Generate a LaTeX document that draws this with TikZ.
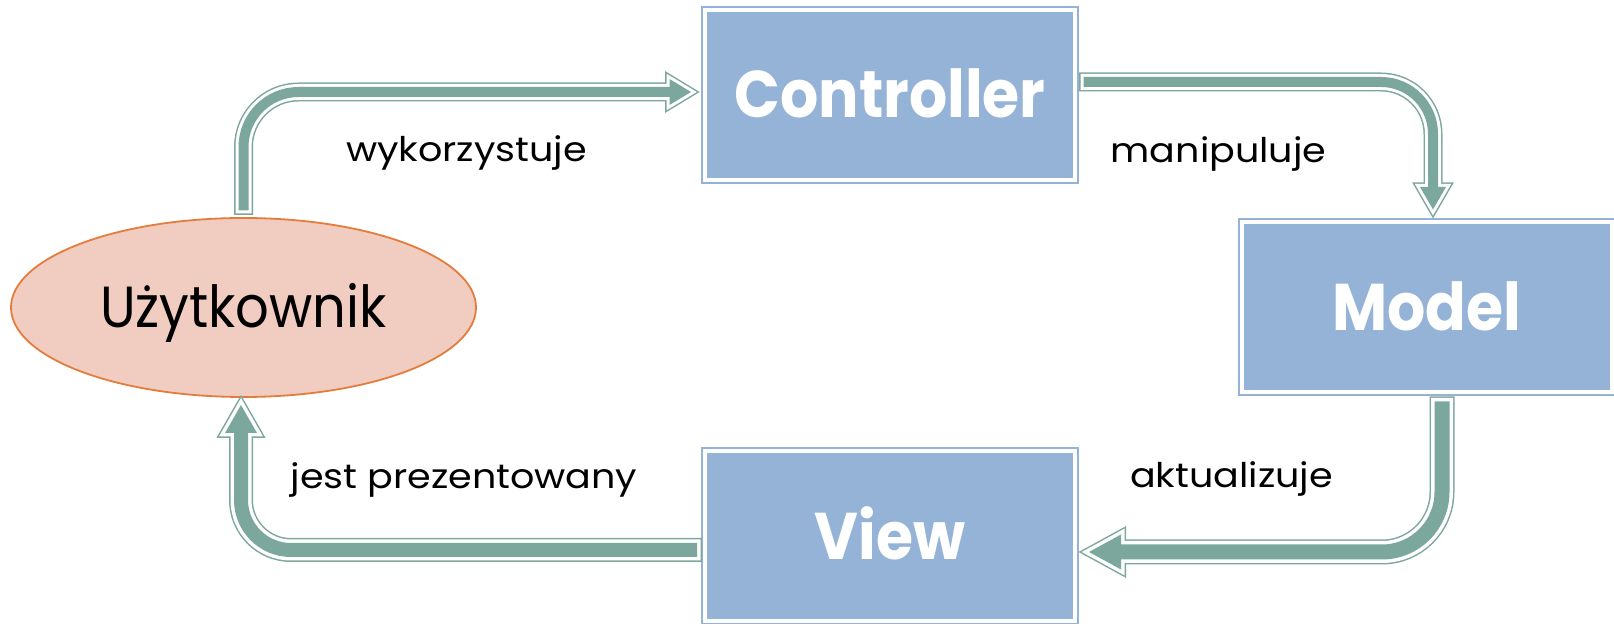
\documentclass[tikz,border=0pt]{standalone}
\usepackage{fontspec}
\setmainfont{Poppins}
\newfontfamily\boxfont[FakeStretch=0.91]{Poppins}
\newfontfamily\lblfont[FakeStretch=1.12]{Poppins}
\usetikzlibrary{calc,shapes.geometric}
\definecolor{arrteal}{RGB}{124,167,157}
\definecolor{boxblue}{RGB}{149,179,215}
\definecolor{boxline}{RGB}{149,179,215}
\definecolor{userfill}{RGB}{240,205,192}
\definecolor{userline}{RGB}{228,124,60}
\begin{document}
\begin{tikzpicture}[x=0.5pt,y=-0.5pt,
  box/.style={rectangle, draw=boxline, line width=1pt, fill=white,
    minimum width=188pt, minimum height=88pt, inner sep=0pt, outer sep=0pt,
    text=white, font=\boxfont\bfseries\fontsize{33}{33}\selectfont,
    text height=23pt, text depth=0pt,
    path picture={\fill[boxblue] ([shift={(2.5pt,2.5pt)}]path picture bounding box.south west) rectangle ([shift={(-2.5pt,-2.5pt)}]path picture bounding box.north east);}},
  userbox/.style={ellipse, draw=userline, line width=0.9pt, fill=userfill,
    minimum width=232.5pt, minimum height=89.5pt, inner sep=0pt, outer sep=0pt,
    font=\boxfont\fontsize{29}{29}\selectfont, text height=20.5pt, text depth=0pt},
  lbl/.style={anchor=base, inner sep=0pt, font=\lblfont\fontsize{17}{17}\selectfont},
  shaft/.style={line cap=rect, line join=miter},
  head/.style={line join=miter}
]
\useasboundingbox (0,0) rectangle (1614,624);

\node[box] (ctrl) at (890,95) {Controller};
\node[box] (model) at (1427,307.5) {Model};
\node[box] (view) at (890,536.5) {View};
\node[userbox] (user) at (243.5,307.5) {Użytkownik};

% arrow geometry
\coordinate (a1s) at ($(user.north)+(0,-12.5)$);
\coordinate (a1t) at ($(ctrl.west)+(-11,-3)$);
\coordinate (a1b) at ($(a1t)+(-21.5,0)$);
\coordinate (a2s) at ($(ctrl.east)+(10.5,-13)$);
\coordinate (a2t) at ($(model.north)+(6,-10)$);
\coordinate (a2b) at ($(a2t)+(0,-22.5)$);
\coordinate (a3s) at ($(model.south)+(15,13.5)$);
\coordinate (a3t) at ($(view.east)+(11,15.5)$);
\coordinate (a3b) at ($(a3t)+(32,0)$);
\coordinate (a4s) at ($(view.west)+(-12,13.5)$);
\coordinate (a4t) at ($(user.south)+(-2.5,8)$);
\coordinate (a4b) at ($(a4t)+(0,28)$);

% layer 1: outer outline
\draw[shaft, arrteal, line width=9.5pt] (a1s) [rounded corners=27.5pt] |- (a1b);
\draw[shaft, arrteal, line width=9.5pt] (a2s) [rounded corners=26pt] -| (a2b);
\draw[shaft, arrteal, line width=12.5pt] (a3s) [rounded corners=30pt] |- (a3b);
\draw[shaft, arrteal, line width=12pt] (a4s) [rounded corners=25pt] -| (a4b);
\filldraw[head, arrteal, line width=4.5pt] (a1t) -- ($(a1b)+(0,-13)$) -- ($(a1b)+(0,13)$) -- cycle;
\filldraw[head, arrteal, line width=4.5pt] (a2t) -- ($(a2b)+(-13,0)$) -- ($(a2b)+(13,0)$) -- cycle;
\filldraw[head, arrteal, line width=5pt] (a3t) -- ($(a3b)+(0,-17.5)$) -- ($(a3b)+(0,17.5)$) -- cycle;
\filldraw[head, arrteal, line width=5pt] (a4t) -- ($(a4b)+(-16,0)$) -- ($(a4b)+(16,0)$) -- cycle;

% layer 2: white gap
\draw[shaft, white, line width=8pt] (a1s) [rounded corners=27.5pt] |- (a1b);
\draw[shaft, white, line width=8pt] (a2s) [rounded corners=26pt] -| (a2b);
\draw[shaft, white, line width=11pt] (a3s) [rounded corners=30pt] |- (a3b);
\draw[shaft, white, line width=10.5pt] (a4s) [rounded corners=25pt] -| (a4b);
\filldraw[head, white, line width=3pt] (a1t) -- ($(a1b)+(0,-13)$) -- ($(a1b)+(0,13)$) -- cycle;
\filldraw[head, white, line width=3pt] (a2t) -- ($(a2b)+(-13,0)$) -- ($(a2b)+(13,0)$) -- cycle;
\filldraw[head, white, line width=3.5pt] (a3t) -- ($(a3b)+(0,-17.5)$) -- ($(a3b)+(0,17.5)$) -- cycle;
\filldraw[head, white, line width=3.5pt] (a4t) -- ($(a4b)+(-16,0)$) -- ($(a4b)+(16,0)$) -- cycle;

% layer 3: fill
\draw[shaft, arrteal, line width=5pt] (a1s) [rounded corners=27.5pt] |- (a1b);
\draw[shaft, arrteal, line width=5pt] (a2s) [rounded corners=26pt] -| (a2b);
\draw[shaft, arrteal, line width=7.5pt] (a3s) [rounded corners=30pt] |- (a3b);
\draw[shaft, arrteal, line width=7pt] (a4s) [rounded corners=25pt] -| (a4b);
\fill[arrteal] (a1t) -- ($(a1b)+(0,-13)$) -- ($(a1b)+(0,13)$) -- cycle;
\fill[arrteal] (a2t) -- ($(a2b)+(-13,0)$) -- ($(a2b)+(13,0)$) -- cycle;
\fill[arrteal] (a3t) -- ($(a3b)+(0,-17.5)$) -- ($(a3b)+(0,17.5)$) -- cycle;
\fill[arrteal] (a4t) -- ($(a4b)+(-16,0)$) -- ($(a4b)+(16,0)$) -- cycle;

% labels
\node[lbl] (l1) at (466.5,162) {wykorzystuje};
\node[lbl] (l2) at (1218.5,163) {manipuluje};
\node[lbl] (l3) at (1231.5,488) {aktualizuje};
\node[lbl] (l4) at (464,489) {jest prezentowany};
\end{tikzpicture}
\end{document}
